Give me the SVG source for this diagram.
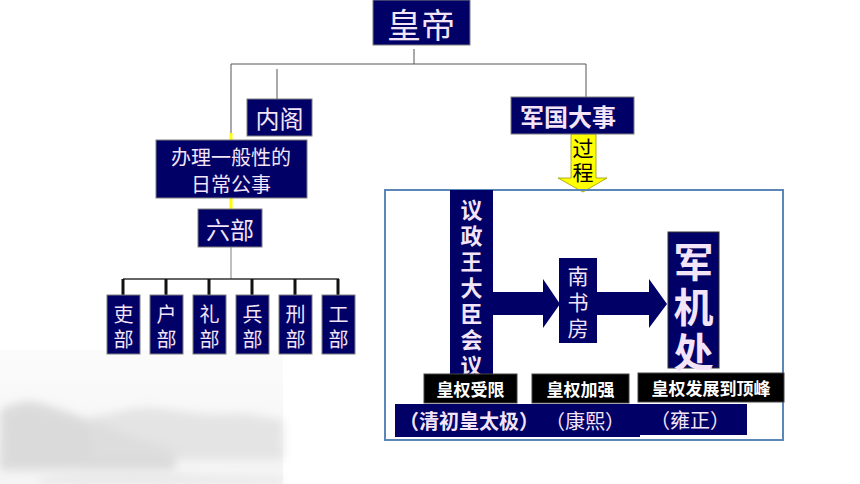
<svg xmlns="http://www.w3.org/2000/svg" width="860" height="484" viewBox="0 0 860 484">
<defs>
<style>
.nb{fill:#000066;stroke:#7f7f7f;stroke-width:1}
.t{font-family:"Noto Sans CJK SC","Noto Sans",sans-serif;fill:#f3e4f7;text-anchor:middle;dominant-baseline:central}
.b{font-weight:bold}
.k{fill:#000000}
.w{fill:#ffffff}
.ln{stroke:#555555;stroke-width:1;fill:none}
.lg{stroke:#aaaaaa;stroke-width:1.5;fill:none}
.lk{stroke:#111111;stroke-width:3;fill:none}
.ly{stroke:#ffff00;stroke-width:3;fill:none}
</style>
<linearGradient id="bg" x1="0" y1="0" x2="0" y2="1">
<stop offset="0" stop-color="#fbfbfb"/>
<stop offset="1" stop-color="#f4f4f4"/>
</linearGradient>
<filter id="blur" x="-10%" y="-50%" width="120%" height="200%"><feGaussianBlur stdDeviation="5"/></filter>
</defs>
<rect width="860" height="484" fill="#ffffff"/>
<g id="landscape">
<rect x="0" y="350" width="283" height="134" fill="url(#bg)"/>
<path d="M0,410 C12,404 25,400 35,402 C60,408 90,420 120,432 C140,440 160,446 175,450 L175,470 L0,470Z" fill="#d4d4d4" filter="url(#blur)" opacity="0.8"/>
<path d="M90,418 C110,414 135,406 155,408 C180,410 200,416 230,414 C250,413 270,418 283,420 L283,460 L90,460Z" fill="#dedede" filter="url(#blur)" opacity="0.75"/>
<path d="M40,478 C90,470 150,472 200,476 L283,478 L283,484 L40,484Z" fill="#e0e0e0" filter="url(#blur)" opacity="0.6"/>
</g>
<g id="connectors">
<path class="ln" d="M414,49 V64 M231,64 H586 V97 M231,64 V136 M277,69 V99"/>
<path class="ly" d="M231,133 V140 M231,198 V209"/>
<path class="lg" d="M231,247 V279"/>
<path class="ln" d="M123,279 H339" style="stroke:#333;stroke-width:1.5"/>
<path class="lk" d="M123,279 V295 M166,279 V295 M209,279 V295 M252,279 V295 M295,279 V295 M338,279 V295"/>
<polygon points="571,134 596,134 596,178 607,178 583,192 558,178 571,178" fill="#ffff00" stroke="#999900" stroke-width="0.8"/>
<polygon points="493,292 543,292 543,279 560,304 543,328 543,315 493,315" fill="#000066"/>
<polygon points="597,292 649,292 649,279 667,304 649,328 649,315 597,315" fill="#000066"/>
</g>
<g id="huangdi"><rect class="nb" x="373" y="0" width="97" height="45"/><text class="t" x="421" y="23" font-size="34">皇帝</text></g>
<g id="neige"><rect class="nb" x="247" y="99" width="65" height="37"/><text class="t" x="279.5" y="117" font-size="24">内阁</text></g>
<g id="junguo"><rect class="nb" x="511" y="97" width="123" height="37"/><text class="t b" x="568" y="115" font-size="24">军国大事</text></g>
<g id="guocheng"><text class="t k" x="583" y="147" font-size="21">过</text><text class="t k" x="583" y="171" font-size="21">程</text></g>
<g id="banli"><rect class="nb" x="156" y="140" width="151" height="58"/><text class="t" x="231" y="156" font-size="20">办理一般性的</text><text class="t" x="231" y="183" font-size="20">日常公事</text></g>
<g id="liubu"><rect class="nb" x="198" y="209" width="64" height="38"/><text class="t" x="230" y="228" font-size="24">六部</text></g>
<g id="libu1"><rect class="nb" x="107" y="295" width="33" height="59"/><text class="t" x="123.5" y="313" font-size="20">吏</text><text class="t" x="123.5" y="338" font-size="20">部</text></g>
<g id="hubu"><rect class="nb" x="150" y="295" width="33" height="59"/><text class="t" x="166.5" y="313" font-size="20">户</text><text class="t" x="166.5" y="338" font-size="20">部</text></g>
<g id="libu2"><rect class="nb" x="193" y="295" width="33" height="59"/><text class="t" x="209.5" y="313" font-size="20">礼</text><text class="t" x="209.5" y="338" font-size="20">部</text></g>
<g id="bingbu"><rect class="nb" x="236" y="295" width="33" height="59"/><text class="t" x="252.5" y="313" font-size="20">兵</text><text class="t" x="252.5" y="338" font-size="20">部</text></g>
<g id="xingbu"><rect class="nb" x="279" y="295" width="33" height="59"/><text class="t" x="295.5" y="313" font-size="20">刑</text><text class="t" x="295.5" y="338" font-size="20">部</text></g>
<g id="gongbu"><rect class="nb" x="322" y="295" width="33" height="59"/><text class="t" x="338.5" y="313" font-size="20">工</text><text class="t" x="338.5" y="338" font-size="20">部</text></g>
<g id="frame"><rect x="385" y="190" width="398" height="250" fill="none" stroke="#5b86b8" stroke-width="2"/></g>
<g id="yizheng"><rect x="450" y="190" width="43" height="187" fill="#000066"/>
<text class="t b" x="471.5" y="208" font-size="22">议</text><text class="t b" x="471.5" y="234" font-size="22">政</text><text class="t b" x="471.5" y="260" font-size="22">王</text><text class="t b" x="471.5" y="286" font-size="22">大</text><text class="t b" x="471.5" y="312" font-size="22">臣</text><text class="t b" x="471.5" y="338" font-size="22">会</text><text class="t b" x="471.5" y="364" font-size="22">议</text></g>
<g id="nanshufang"><rect x="559" y="258" width="38" height="85" fill="#000066"/>
<text class="t" x="578" y="275" font-size="21">南</text><text class="t" x="578" y="301" font-size="21">书</text><text class="t" x="578" y="327" font-size="21">房</text></g>
<g id="junjichu"><rect x="668" y="232" width="51" height="136" fill="#000066" stroke="#333" stroke-width="1"/>
<text class="t b" x="693.5" y="260" font-size="40">军</text><text class="t b" x="693.5" y="305" font-size="40">机</text><text class="t b" x="693.5" y="350" font-size="40">处</text></g>
<g id="era"><rect x="542" y="404" width="98" height="33" fill="#000066"/><rect x="395" y="404" width="172" height="33" fill="#000066"/><rect x="630" y="404" width="117" height="31" fill="#000066"/>
<text class="t b" x="469" y="420" font-size="20">（清初皇太极）</text><text class="t" x="585" y="420" font-size="20">（康熙）</text><text class="t" x="690" y="419" font-size="20">（雍正）</text></g>
<g id="labels"><rect x="424" y="374" width="93" height="29" fill="#000000" stroke="#444"/><text class="t b w" x="470.5" y="388.5" font-size="17">皇权受限</text>
<rect x="532" y="374" width="97" height="29" fill="#000000" stroke="#444"/><text class="t b w" x="580.5" y="388.5" font-size="17">皇权加强</text>
<rect x="638" y="373" width="146" height="29" fill="#000000" stroke="#444"/><text class="t b w" x="711" y="387.5" font-size="17">皇权发展到顶峰</text></g>
</svg>
